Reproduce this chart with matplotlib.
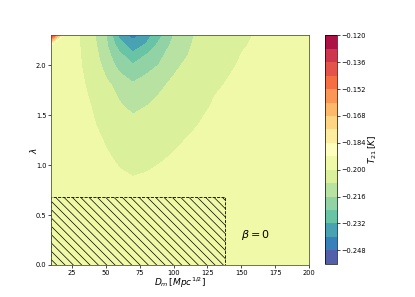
import numpy as np
import matplotlib
matplotlib.use("Agg")
import matplotlib.pyplot as plt
from matplotlib.patches import Rectangle

# grid: D_m columns, lambda rows, T21 values [K]
d_m = [10, 20, 30, 40, 50, 60, 70, 80, 90, 100, 115, 130, 150, 175, 200]
lam = [0.0, 0.5, 0.8, 1.1, 1.4, 1.6, 1.8, 2.0, 2.1, 2.2, 2.3]
t21 = [
    [-0.1950, -0.1952, -0.1955, -0.1958, -0.1960, -0.1962, -0.1963, -0.1962, -0.1960, -0.1958, -0.1956, -0.1955, -0.1954, -0.1953, -0.1952],
    [-0.1953, -0.1956, -0.1960, -0.1965, -0.1970, -0.1974, -0.1976, -0.1975, -0.1973, -0.1970, -0.1967, -0.1965, -0.1963, -0.1962, -0.1960],
    [-0.1955, -0.1960, -0.1968, -0.1975, -0.1981, -0.1987, -0.1990, -0.1988, -0.1985, -0.1982, -0.1978, -0.1975, -0.1973, -0.1971, -0.1970],
    [-0.1958, -0.1965, -0.1975, -0.1986, -0.1995, -0.2010, -0.2025, -0.2016, -0.2006, -0.1998, -0.1990, -0.1983, -0.1978, -0.1974, -0.1970],
    [-0.1960, -0.1968, -0.1982, -0.1995, -0.2013, -0.2035, -0.2055, -0.2043, -0.2031, -0.2019, -0.2002, -0.1992, -0.1983, -0.1976, -0.1970],
    [-0.1962, -0.1970, -0.1985, -0.2002, -0.2036, -0.2073, -0.2101, -0.2082, -0.2064, -0.2046, -0.2020, -0.1996, -0.1985, -0.1978, -0.1970],
    [-0.1963, -0.1972, -0.1988, -0.2013, -0.2062, -0.2106, -0.2148, -0.2119, -0.2090, -0.2067, -0.2036, -0.2005, -0.1990, -0.1980, -0.1970],
    [-0.1965, -0.1975, -0.1992, -0.2029, -0.2106, -0.2188, -0.2232, -0.2194, -0.2154, -0.2094, -0.2056, -0.2026, -0.1994, -0.1982, -0.1970],
    [-0.1965, -0.1975, -0.1993, -0.2038, -0.2128, -0.2215, -0.2298, -0.2234, -0.2177, -0.2118, -0.2064, -0.2036, -0.1999, -0.1983, -0.1970],
    [-0.1965, -0.1975, -0.1995, -0.2049, -0.2142, -0.2278, -0.2360, -0.2309, -0.2209, -0.2140, -0.2072, -0.2044, -0.2004, -0.1982, -0.1970],
    [-0.1350, -0.1975, -0.1995, -0.2060, -0.2153, -0.2347, -0.2430, -0.2356, -0.2260, -0.2160, -0.2080, -0.2052, -0.2010, -0.1980, -0.1970],
]

levels = [-0.256, -0.248, -0.240, -0.232, -0.224, -0.216, -0.208, -0.200, -0.192,
          -0.184, -0.176, -0.168, -0.160, -0.152, -0.144, -0.136, -0.128, -0.120]
cbar_ticks = [-0.248, -0.232, -0.216, -0.200, -0.184, -0.168, -0.152, -0.136, -0.120]

# excluded region (hatched box)
box_d = [10, 138]
box_lam = [0.0, 0.68]

plt.rcParams['hatch.linewidth'] = 0.5

fig = plt.figure(figsize=(4.15, 2.97), dpi=100)
ax = fig.add_axes([0.124, 0.108, 0.621, 0.773])
cax = fig.add_axes([0.783, 0.112, 0.028, 0.769])

cs = ax.contourf(d_m, lam, np.array(t21), levels=levels, cmap='Spectral_r')

ax.add_patch(Rectangle((box_d[0], box_lam[0]), box_d[1] - box_d[0], box_lam[1] - box_lam[0],
                       facecolor='none', edgecolor='black', hatch='\\\\\\\\',
                       linestyle='--', linewidth=0.6))
ax.text(150, 0.3, r'$\beta = 0$', fontsize=8, va='center', ha='left')

ax.set_xlim(10, 200)
ax.set_ylim(0, 2.3)
ax.set_xticks([25, 50, 75, 100, 125, 150, 175, 200])
ax.set_yticks([0.0, 0.5, 1.0, 1.5, 2.0])
ax.set_xlabel(r'$D_m\,[Mpc^{1/2}]$', fontsize=6.5, labelpad=0)
ax.set_ylabel(r'$\lambda$', fontsize=6.5, labelpad=-2)
ax.tick_params(labelsize=4.8, length=2, width=0.5, pad=1.5)
for s in ax.spines.values():
    s.set_linewidth(0.6)
    s.set_color('#555555')

cb = fig.colorbar(cs, cax=cax, ticks=cbar_ticks)
cb.ax.set_yticklabels([('%.3f' % t).replace('-', '\u2212') for t in cbar_ticks])
cb.ax.tick_params(labelsize=4.8, length=2, width=0.5, pad=1.5)
cb.set_label(r'$T_{21}\,[K]$', fontsize=6.5, labelpad=0)
cb.outline.set_linewidth(0.5)

fig.savefig('out.png', dpi=100)
